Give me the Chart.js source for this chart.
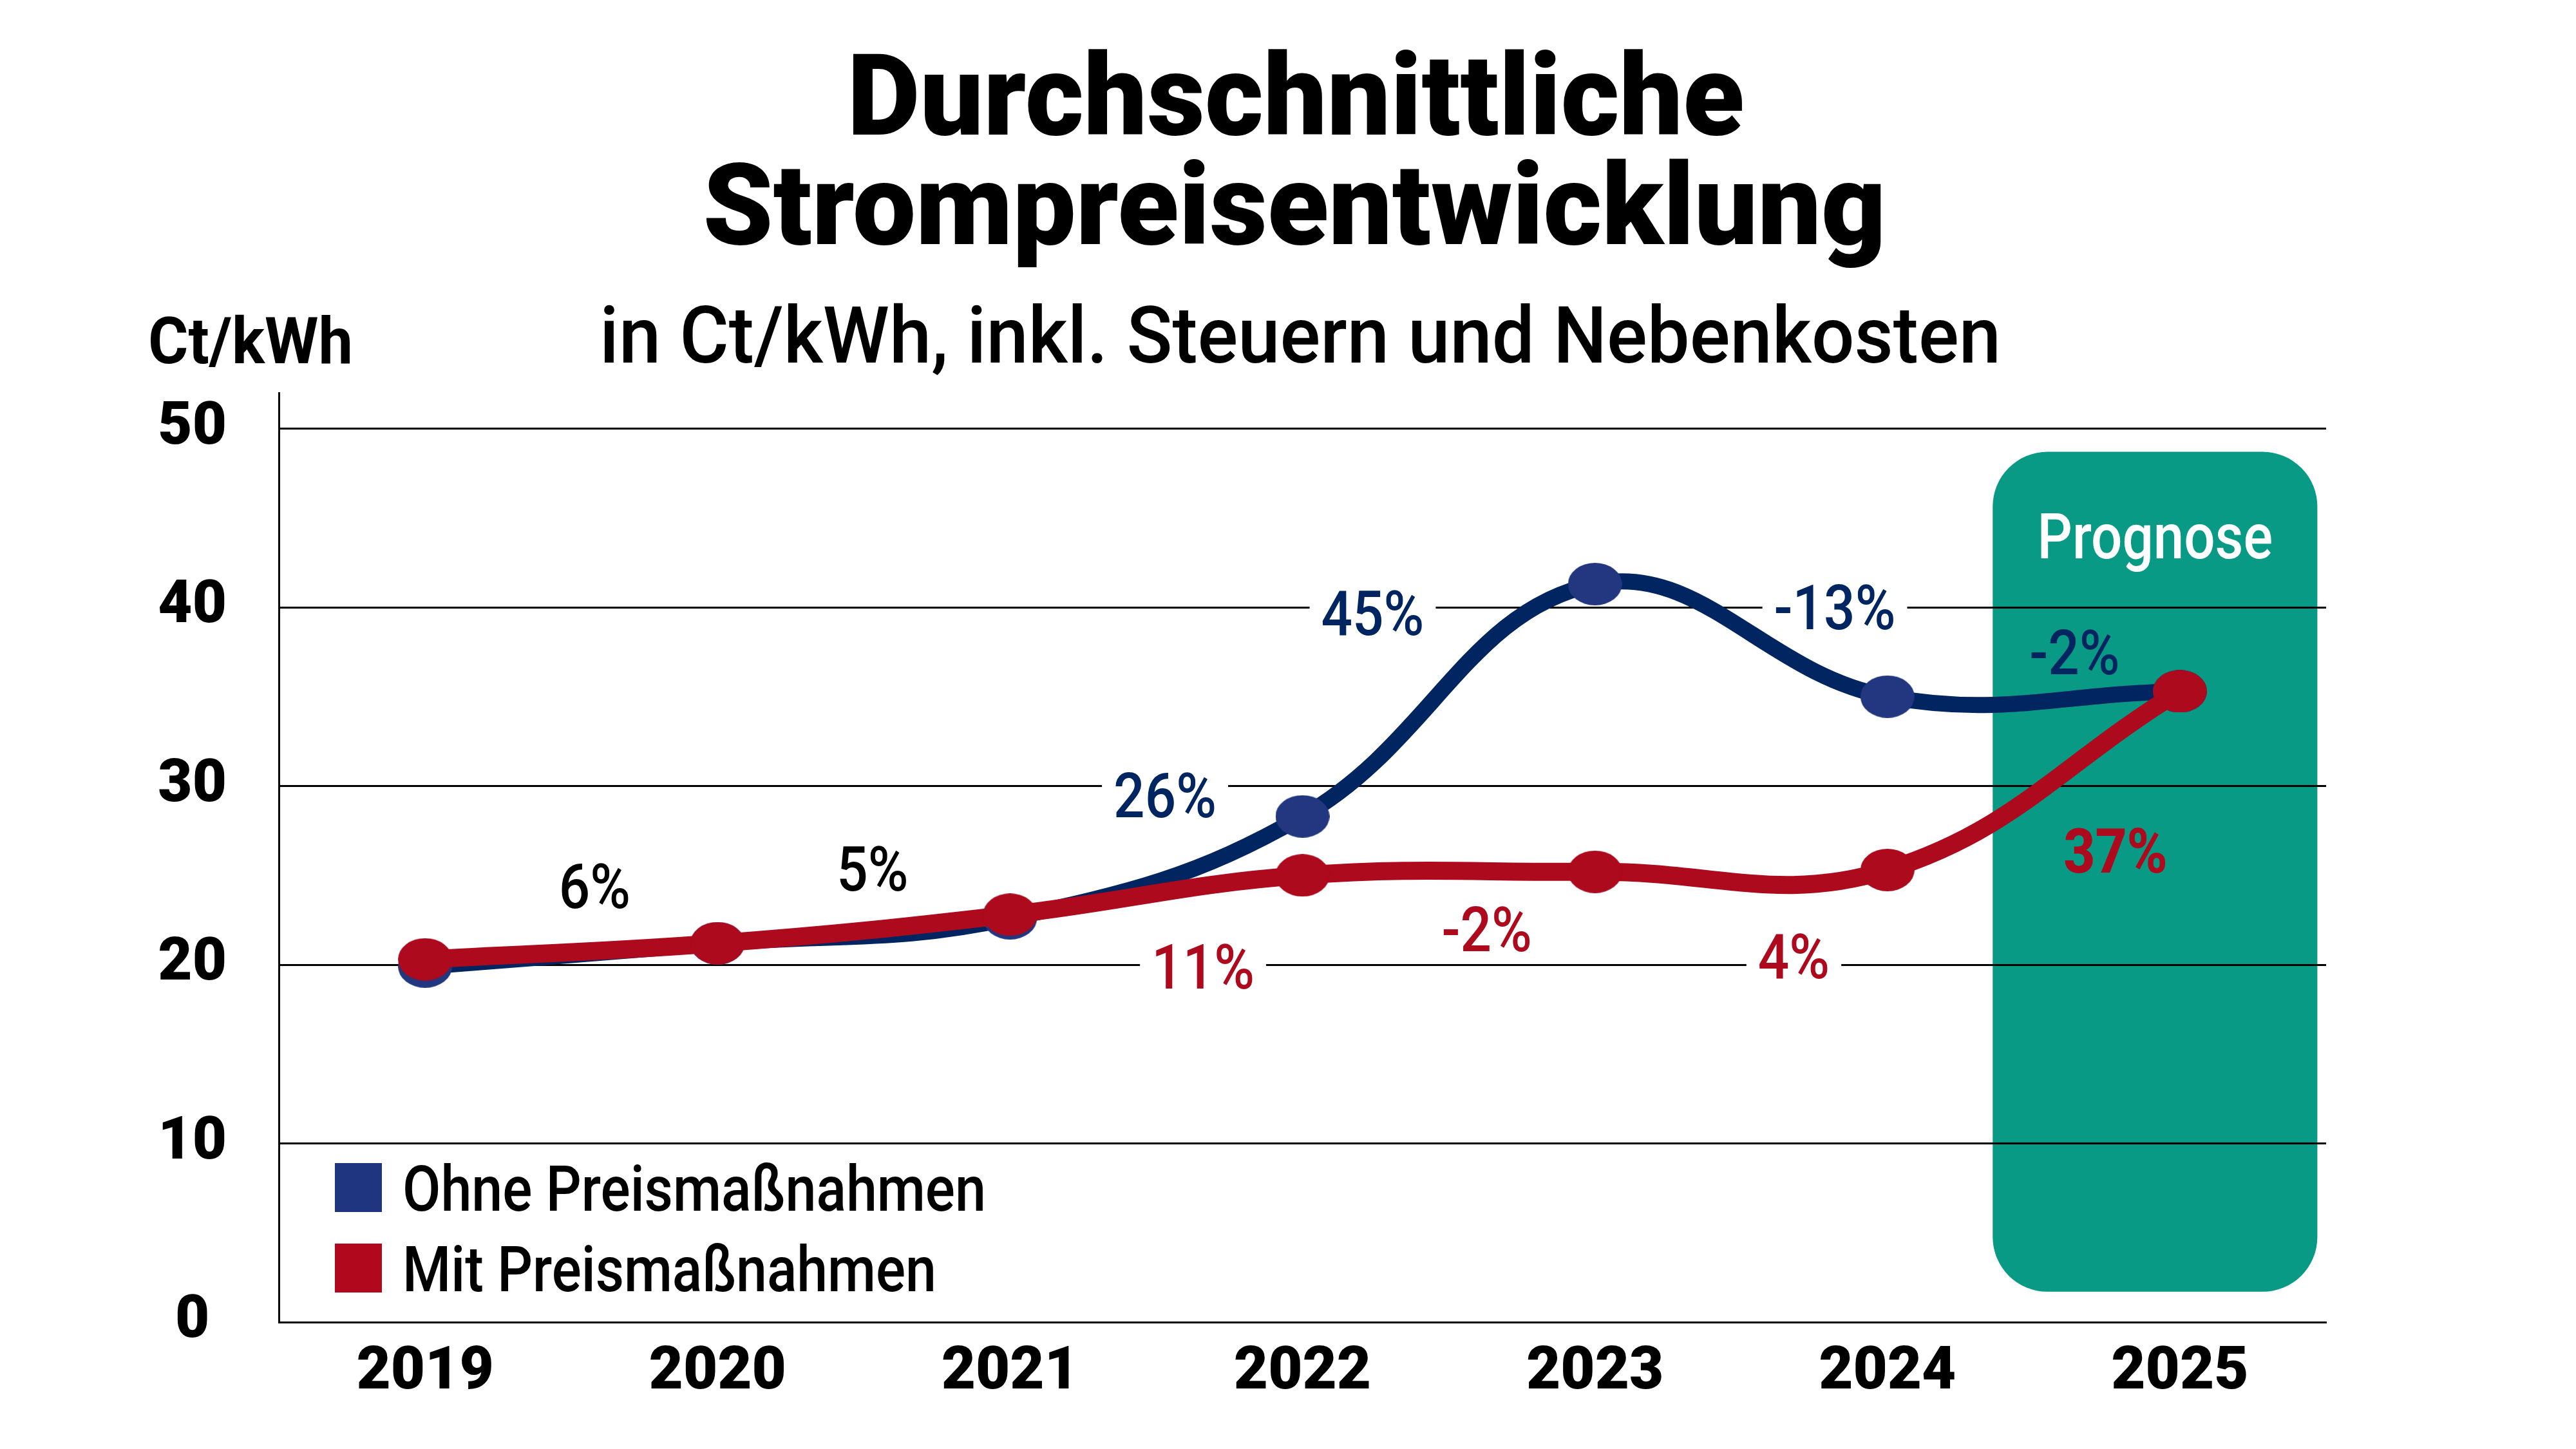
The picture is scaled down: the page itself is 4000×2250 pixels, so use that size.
<!DOCTYPE html>
<html lang="de">
<head>
<meta charset="utf-8">
<title>Durchschnittliche Strompreisentwicklung</title>
<script src="https://cdn.jsdelivr.net/npm/chart.js@4.4.1/dist/chart.umd.min.js"></script>
<style>
  html, body { margin: 0; padding: 0; background: #fff; }
  body { width: 4000px; height: 2250px; position: relative; overflow: hidden; font-family: Roboto, "Liberation Sans", sans-serif; }
  #chart { position: absolute; left: 0; top: 0; }
  .txt { position: absolute; white-space: nowrap; line-height: 1; color: #000; }
  .mid { transform-origin: center top; }
  .lft { transform-origin: left top; }
  .box { position: absolute; width: 73px; height: 76px; }
</style>
</head>
<body>
<canvas id="chart" width="4000" height="2250"></canvas>

<div class="txt mid" id="t1" style="font-weight:900;font-size:177px;left:2012px;top:60px" data-w="1393">Durchschnittliche</div>
<div class="txt mid" id="t2" style="font-weight:900;font-size:177px;left:2010px;top:230px" data-w="1837">Strompreisentwicklung</div>
<div class="txt mid" id="sub" style="font-weight:500;font-size:122px;left:2019px;top:461px" data-w="2176">in Ct/kWh, inkl. Steuern und Nebenkosten</div>
<div class="txt mid" id="unit" style="font-weight:700;font-size:100px;left:389px;top:480px" data-w="318">Ct/kWh</div>

<div class="box" id="lg1" style="left:520px;top:1806px"></div>
<div class="txt lft" id="lt1" style="font-weight:500;font-size:98px;left:625px;top:1798px" data-w="906"></div>
<div class="box" id="lg2" style="left:520px;top:1931px"></div>
<div class="txt lft" id="lt2" style="font-weight:500;font-size:98px;left:625px;top:1923px" data-w="829"></div>

<script>
// Daten
const jahre = ["2019", "2020", "2021", "2022", "2023", "2024", "2025"];
const ohnePreismassnahmen = [19.9, 21.2, 22.6, 28.3, 41.3, 35.0, 35.3];
const mitPreismassnahmen = [20.3, 21.2, 22.8, 25.0, 25.2, 25.3, 35.3];
const serienNamen = ["Ohne Preismaßnahmen", "Mit Preismaßnahmen"];
const yTicks = [0, 10, 20, 30, 40, 50];
const prognoseText = "Prognose";

// Veränderungen in Prozent
const aenderungen = ["6%", "5%", "26%", "11%", "45%", "-2%", "-13%", "4%", "-2%", "37%"];

const BLAU = "#002560";
const BLAU_PUNKT = "#22377f";
const ROT = "#ad0a1e";
const TUERKIS = "#089a84";

// Platzierung der Prozent-Labels (Kategorie-Index, Wert), Farbe, Hintergrund
const labelPos = [
  {i: 0.58, v: 24.4, c: "#000", bg: true},
  {i: 1.53, v: 25.4, c: "#000", bg: true},
  {i: 2.53, v: 29.5, c: BLAU, bg: true},
  {i: 2.66, v: 19.9, c: ROT, bg: true},
  {i: 3.24, v: 39.7, c: BLAU, bg: true},
  {i: 3.63, v: 22.0, c: ROT, bg: true},
  {i: 4.82, v: 40.0, c: BLAU, bg: true},
  {i: 4.68, v: 20.5, c: ROT, bg: true},
  {i: 5.64, v: 37.5, c: BLAU, bg: false},
  {i: 5.78, v: 26.4, c: ROT, bg: false, bold: true}
];

document.getElementById("lt1").textContent = serienNamen[0];
document.getElementById("lt2").textContent = serienNamen[1];
document.getElementById("lg1").style.background = "#1f3580";
document.getElementById("lg2").style.background = "#b1081d";

// schmale Schrift nachbilden
document.querySelectorAll("[data-w]").forEach(el => {
  const w = el.getBoundingClientRect().width;
  const k = +el.dataset.w / w;
  if (el.classList.contains("mid")) el.style.transform = `translateX(-50%) scaleX(${k})`;
  else el.style.transform = `scaleX(${k})`;
});

function schmalText(ctx, text, x, y, size, weight, color, sx, bg) {
  ctx.save();
  ctx.font = `${weight} ${size}px Roboto`;
  const w = ctx.measureText(text).width * sx;
  if (bg) {
    ctx.fillStyle = "#fff";
    ctx.fillRect(x - w / 2 - 18, y - size * 0.45, w + 36, size * 0.9);
  }
  ctx.translate(x, y + size * 0.355);
  ctx.scale(sx, 1);
  ctx.textAlign = "center";
  ctx.textBaseline = "alphabetic";
  ctx.fillStyle = color;
  ctx.fillText(text, 0, 0);
  ctx.restore();
}

function ellipsePunkt(color, w, h) {
  const c = document.createElement("canvas");
  c.width = w; c.height = h;
  const g = c.getContext("2d");
  g.fillStyle = color;
  g.beginPath();
  g.ellipse(w / 2, h / 2, w / 2, h / 2, 0, 0, Math.PI * 2);
  g.fill();
  return c;
}

const prognosePlugin = {
  id: "prognose",
  beforeDraw(chart) {
    const {ctx, scales: {x, y}} = chart;
    const l = x.getPixelForValue(5.36), r = x.getPixelForValue(6.47);
    const t = y.getPixelForValue(48.7), b = y.getPixelForValue(1.7);
    ctx.save();
    ctx.fillStyle = TUERKIS;
    ctx.beginPath();
    ctx.roundRect(l, t, r - l, b - t, 85);
    ctx.fill();
    ctx.restore();
    schmalText(ctx, prognoseText, (l + r) / 2, y.getPixelForValue(44.0), 98, 500, "#fff", 0.87, false);
  }
};

const labelPlugin = {
  id: "aenderungen",
  beforeDatasetsDraw(chart) {
    const {ctx, scales: {x, y}} = chart;
    aenderungen.forEach((txt, k) => {
      const p = labelPos[k];
      schmalText(ctx, txt, x.getPixelForValue(p.i), y.getPixelForValue(p.v), 97, p.bold ? 800 : 500, p.c, 0.88, p.bg);
    });
  }
};

new Chart(document.getElementById("chart"), {
  type: "line",
  data: {
    labels: jahre,
    datasets: [
      {
        label: serienNamen[0],
        data: ohnePreismassnahmen,
        borderColor: BLAU,
        borderWidth: 25,
        tension: 0.4,
        pointStyle: ellipsePunkt(BLAU_PUNKT, 84, 66),
        pointRadius: 34,
        pointBorderWidth: 0,
        order: 2
      },
      {
        label: serienNamen[1],
        data: mitPreismassnahmen,
        borderColor: ROT,
        borderWidth: 28,
        tension: 0.4,
        pointStyle: ellipsePunkt(ROT, 84, 66),
        pointRadius: 34,
        pointBorderWidth: 0,
        order: 1
      }
    ]
  },
  options: {
    responsive: false,
    animation: false,
    devicePixelRatio: 1,
    layout: {padding: {top: 610, right: 388, left: 0, bottom: 0}},
    plugins: {legend: {display: false}, tooltip: {enabled: false}},
    scales: {
      x: {
        offset: true,
        grid: {display: false, drawTicks: false},
        border: {display: true, color: "#000", width: 3},
        ticks: {color: "#000", font: {family: "Roboto", weight: "900", size: 92}, padding: 25},
        afterFit(s) { s.height = 197; }
      },
      y: {
        min: 0,
        max: 52,
        afterBuildTicks(s) { s.ticks = yTicks.map(v => ({value: v})); },
        grid: {color: "#000", lineWidth: 3, drawTicks: false},
        border: {display: true, color: "#000", width: 3},
        ticks: {color: "#000", font: {family: "Roboto", weight: "900", size: 92}, padding: 81, crossAlign: "center"},
        afterFit(s) { s.width = 433; }
      }
    }
  },
  plugins: [prognosePlugin, labelPlugin]
});
</script>
</body>
</html>
